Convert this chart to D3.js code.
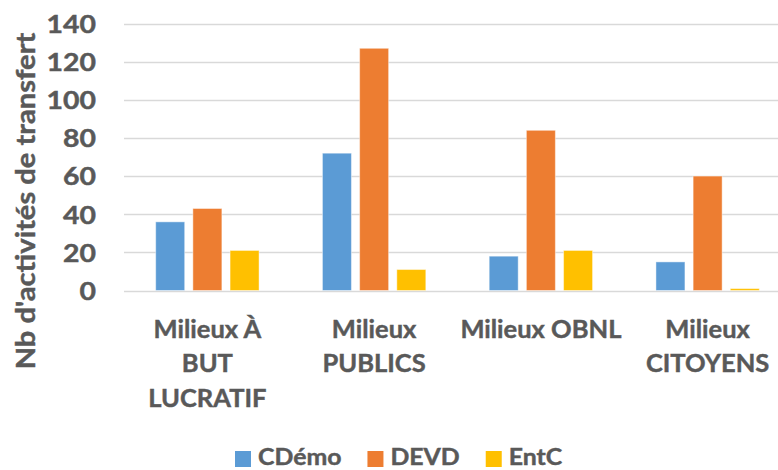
<!DOCTYPE html>
<html>
<head>
<meta charset="utf-8">
<script src="https://cdn.jsdelivr.net/npm/d3@7/dist/d3.min.js"></script>
<style>
  html, body { margin: 0; padding: 0; background: #fff; }
  svg { display: block; }
  text { font-family: "Lato", "Open Sans", sans-serif; font-weight: bold; fill: #595959; stroke: #595959; stroke-width: 0.45px; }
</style>
</head>
<body>
<svg id="chart" width="778" height="470"></svg>
<script>
// Transfer activities per setting type
const categories = [
  ["Milieux À", "BUT", "LUCRATIF"],
  ["Milieux", "PUBLICS"],
  ["Milieux OBNL"],
  ["Milieux", "CITOYENS"]
];
const seriesNames = ["CDémo", "DEVD", "EntC"];
const cdemo = [36, 72, 18, 15];
const devd  = [43, 127, 84, 60];
const entc  = [21, 11, 21, 1];
const yTicks = [0, 20, 40, 60, 80, 100, 120, 140];
const colors = ["#5B9BD5", "#ED7D31", "#FFC000"];

const seriesValues = [cdemo, devd, entc];
const catKeys = categories.map(c => c.join(" "));

const svg = d3.select("#chart");
const W = 778, H = 470;
const margin = { left: 124, right: -13, top: 23.5, bottom: 179.5 };

const y = d3.scaleLinear().domain([0, 140]).range([H - margin.bottom, margin.top]);
const x0 = d3.scaleBand().domain(catKeys).range([margin.left, W - margin.right])
  .paddingInner(0.38).paddingOuter(0.19);
const x1 = d3.scaleBand().domain(seriesNames).range([0, x0.bandwidth()])
  .paddingInner(0.22).paddingOuter(0);

// gridlines
svg.append("g")
  .selectAll("line")
  .data(yTicks)
  .join("line")
  .attr("x1", margin.left)
  .attr("x2", W - margin.right)
  .attr("y1", d => Math.round(y(d)) + 0.5)
  .attr("y2", d => Math.round(y(d)) + 0.5)
  .attr("stroke", "#d9d9d9")
  .attr("stroke-width", 1.6);

// y axis labels
const yAxis = d3.axisLeft(y).tickValues(yTicks).tickSize(0).tickPadding(0);
const gy = svg.append("g").attr("transform", "translate(96,0)").call(yAxis);
gy.select(".domain").remove();
gy.attr("font-family", null).attr("font-size", null);
gy.selectAll("text")
  .attr("font-size", 24.5)
  .attr("fill", "#595959")
  .attr("dy", "0.36em")
  .attr("transform", "scale(1.16,1)");

// bars
const groups = svg.append("g")
  .selectAll("g")
  .data(catKeys)
  .join("g")
  .attr("transform", d => `translate(${x0(d)},0)`);

groups.selectAll("rect")
  .data((d, i) => seriesNames.map((s, j) => ({ s, v: seriesValues[j][i], c: colors[j] })))
  .join("rect")
  .attr("x", d => x1(d.s))
  .attr("width", x1.bandwidth())
  .attr("y", d => y(d.v))
  .attr("height", d => y(0) - y(d.v))
  .attr("fill", d => d.c)
  .attr("stroke", "rgba(255,255,255,0.45)")
  .attr("stroke-width", 1);

// category labels
const catG = svg.append("g");
categories.forEach((lines, i) => {
  const cx = x0(catKeys[i]) + x0.bandwidth() / 2;
  const t = catG.append("text")
    .attr("text-anchor", "middle")
    .attr("font-size", 25.5)
    .attr("transform", `translate(${cx},0) scale(1.0,1)`);
  lines.forEach((ln, k) => {
    t.append("tspan").attr("x", 0).attr("y", 337.5 + k * 34.7).text(ln);
  });
});

// y axis title
svg.append("text")
  .attr("transform", "translate(35,201) rotate(-90) scale(1.06,1)")
  .attr("text-anchor", "middle")
  .attr("font-size", 27.5)
  .text("Nb d'activités de transfert");

// legend
const lg = svg.append("g");
let lx = 235;
seriesNames.forEach((name, j) => {
  lg.append("rect").attr("x", lx).attr("y", 451).attr("width", 16).attr("height", 16).attr("fill", colors[j]);
  const t = lg.append("text")
    .attr("transform", `translate(${lx + 23},465) scale(1.08,1)`)
    .attr("font-size", 23)
    .text(name);
  lx += 23 + t.node().getComputedTextLength() * 1.08 + 26;
});
</script>
</body>
</html>
